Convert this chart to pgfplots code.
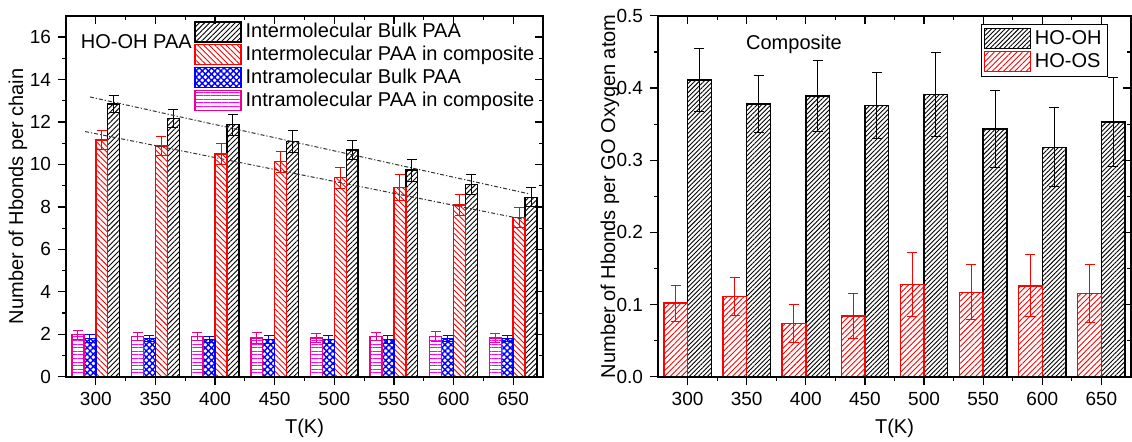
\documentclass[border=0pt]{standalone}
\usepackage{fontspec}
\setmainfont{Liberation Sans}
\usepackage{pgfplots}
\pgfplotsset{compat=1.18}
\usetikzlibrary{patterns.meta}

\pgfplotsset{
  panel/.style={
    scale only axis, height=180.5pt,
    xmin=275, xmax=675, xtick={300,350,...,650}, minor x tick num=1,
    major tick length=4pt, minor tick length=2pt,
    every tick/.style={black, line width=0.6pt},
    axis line style={line width=0.7pt},
    /pgf/number format/assume math mode=true,
    tick label style={font=\fontsize{9.5}{11}\selectfont},
    label style={font=\fontsize{10}{12}\selectfont},
  },
  front/.style={panel, xtick pos=left, ytick pos=left, tick align=outside,
    xlabel={T(K)},
    xlabel style={at={(axis description cs:0.5,-0.1435)}, anchor=center}},
  back/.style={panel, xtick pos=right, ytick pos=right, tick align=inside,
    xticklabels={}, yticklabels={}},
  % bars are moved sideways with the x filter so that the error bars follow them
  hb/.style n args={4}{ybar, bar width=#1, bar shift=0pt, x filter/.expression={x+(#2)},
    draw=#3, line width=0.7pt, pattern={#4}, pattern color=#3,
    legend image code/.code={\draw[##1] (0pt,-5pt) rectangle (23pt,5pt);},
    error bars/.cd, y dir=both, y explicit,
    error bar style={#3, line width=0.5pt},
    error mark options={#3, rotate=90, mark size=2.5pt, line width=0.5pt}},
  trend/.style={black!80, line width=0.5pt,
    dash pattern=on 2pt off 1pt on 0.6pt off 1pt, forget plot},
}

\begin{document}
\begin{tikzpicture}
% left panel: H-bonds per chain
\begin{axis}[front, at={(0pt,0pt)}, width=238.5pt,
  ymin=0, ymax=17, ytick={0,2,...,16}, minor y tick num=1,
  ylabel={Number of Hbonds per chain},
  ylabel style={at={(axis description cs:-0.1006,0.5)}, anchor=center},
  legend style={at={(axis description cs:0.2555,1.003)}, anchor=north west,
    draw=none, fill=none, font=\fontsize{10}{12}\selectfont, row sep=-1.3pt},
  legend cell align=left]
\addplot[hb={10}{15}{black}{Lines[angle=45,distance=1.8pt,line width=0.45pt]}]
  coordinates {(300,12.85) +- (0,0.42) (350,12.17) +- (0,0.42) (400,11.87) +- (0,0.5)
    (450,11.08) +- (0,0.52) (500,10.69) +- (0,0.46) (550,9.73) +- (0,0.52)
    (600,9.06) +- (0,0.46) (650,8.45) +- (0,0.45)};
\addlegendentry{Intermolecular Bulk PAA}
\addplot[hb={10}{5}{red}{Lines[angle=-45,distance=2pt,line width=0.45pt]}]
  coordinates {(300,11.16) +- (0,0.45) (350,10.86) +- (0,0.46) (400,10.5) +- (0,0.5)
    (450,10.13) +- (0,0.5) (500,9.38) +- (0,0.5) (550,8.92) +- (0,0.6)
    (600,8.09) +- (0,0.5) (650,7.5) +- (0,0.45)};
\addlegendentry{Intermolecular PAA in composite}
\addplot[hb={10}{-5}{blue}{Hatch[angle=45,distance=2.2pt,line width=0.7pt]}]
  coordinates {(300,1.81) +- (0,0.2) (350,1.81) +- (0,0.15) (400,1.75) +- (0,0.15)
    (450,1.75) +- (0,0.2) (500,1.75) +- (0,0.2) (550,1.75) +- (0,0.2)
    (600,1.81) +- (0,0.15) (650,1.81) +- (0,0.15)};
\addlegendentry{Intramolecular Bulk PAA}
\addplot[hb={10}{-15}{magenta}{Lines[angle=0,distance=1.8pt,line width=0.45pt]}]
  coordinates {(300,1.98) +- (0,0.2) (350,1.89) +- (0,0.2) (400,1.89) +- (0,0.2)
    (450,1.83) +- (0,0.25) (500,1.83) +- (0,0.2) (550,1.89) +- (0,0.2)
    (600,1.89) +- (0,0.25) (650,1.83) +- (0,0.2)};
\addlegendentry{Intramolecular PAA in composite}
\addplot[trend] coordinates {(295,13.18) (663,8.62)};
\addplot[trend] coordinates {(291,11.55) (663,7.37)};
\node[font=\fontsize{10}{12}\selectfont] at (axis cs:334,15.8) {HO-OH PAA};
\end{axis}
\begin{axis}[back, at={(0pt,0pt)}, width=238.5pt,
  ymin=0, ymax=17, ytick={0,2,...,16}, minor y tick num=1]
\end{axis}

% right panel: H-bonds per GO oxygen atom
\begin{axis}[front, at={(296pt,0pt)}, width=236.5pt,
  ymin=0, ymax=0.5, ytick={0,0.1,0.2,0.3,0.4,0.5}, minor y tick num=1,
  yticklabel style={/pgf/number format/fixed, /pgf/number format/fixed zerofill,
    /pgf/number format/precision=1},
  ylabel={Number of Hbonds per GO Oxygen atom},
  ylabel style={at={(axis description cs:-0.1015,0.5)}, anchor=center},
  legend style={at={(axis description cs:0.683,0.978)}, anchor=north west,
    draw=black, line width=0.5pt, fill=white, font=\fontsize{10}{12}\selectfont,
    row sep=-1pt, inner sep=1pt},
  legend cell align=left]
\addplot[hb={20}{10}{black}{Lines[angle=45,distance=1.6pt,line width=0.45pt]}]
  coordinates {(300,0.411) +- (0,0.044) (350,0.378) +- (0,0.040) (400,0.389) +- (0,0.049)
    (450,0.376) +- (0,0.046) (500,0.391) +- (0,0.058) (550,0.343) +- (0,0.053)
    (600,0.318) +- (0,0.055) (650,0.353) +- (0,0.062)};
\addlegendentry{HO-OH}
\addplot[hb={20}{-10}{red}{Lines[angle=45,distance=2pt,line width=0.45pt]}]
  coordinates {(300,0.102) +- (0,0.025) (350,0.111) +- (0,0.026) (400,0.074) +- (0,0.026)
    (450,0.084) +- (0,0.031) (500,0.128) +- (0,0.044) (550,0.117) +- (0,0.038)
    (600,0.126) +- (0,0.043) (650,0.115) +- (0,0.040)};
\addlegendentry{HO-OS}
\node[font=\fontsize{10}{12}\selectfont] at (axis cs:390,0.46) {Composite};
\end{axis}
\begin{axis}[back, at={(296pt,0pt)}, width=236.5pt,
  ymin=0, ymax=0.5, ytick={0,0.1,0.2,0.3,0.4,0.5}, minor y tick num=1]
\end{axis}

\pgfresetboundingbox
\path (-33pt,-32.2pt) rectangle (533pt,188.4pt);
\end{tikzpicture}
\end{document}
